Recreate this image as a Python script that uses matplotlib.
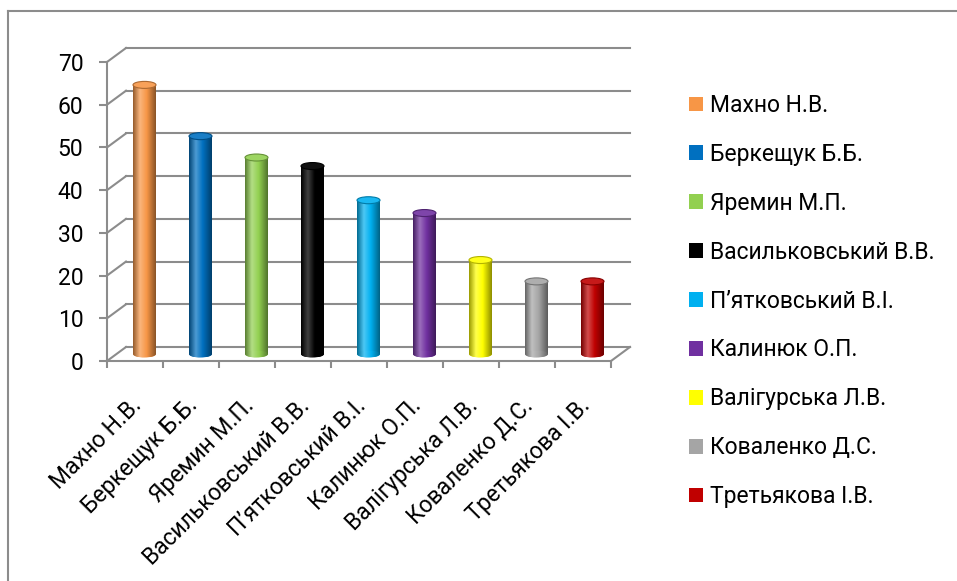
import numpy as np
import matplotlib
matplotlib.use('Agg')
import matplotlib.pyplot as plt
from matplotlib.patches import Ellipse, Patch
from matplotlib.lines import Line2D
from matplotlib.colors import to_rgb, LinearSegmentedColormap
from matplotlib.transforms import ScaledTranslation

names = ['Махно Н.В.', 'Беркещук Б.Б.', 'Яремин М.П.', 'Васильковський В.В.',
         'П’ятковський В.І.', 'Калинюк О.П.', 'Валігурська Л.В.',
         'Коваленко Д.С.', 'Третьякова І.В.']
values = [63, 51, 46, 44, 36, 33, 22, 17, 17]
colors = ['#F79646', '#0070C0', '#92D050', '#000000', '#00B0F0',
          '#7030A0', '#FFFF00', '#A5A5A5', '#C00000']
yticks = [0, 10, 20, 30, 40, 50, 60, 70]

plt.rcParams['font.family'] = ['Roboto', 'DejaVu Sans']
FS = 16.5
GRID = '#8c8c8c'

W, H = 957, 581
fig = plt.figure(figsize=(W / 100, H / 100), dpi=100)
L, R, B, T = 107, 611, 361, 62
ax = fig.add_axes([L / W, 1 - B / H, (R - L) / W, (B - T) / H])
n = len(names)
ax.set_xlim(0, n)
ax.set_ylim(0, 70)

gx = n / (R - L)
gy = 70 / (B - T)
DXp, DYp = 19, 14
dx, dy = DXp * gx, DYp * gy

for s in ['top', 'right']:
    ax.spines[s].set_visible(False)
for s in ['left', 'bottom']:
    ax.spines[s].set_color(GRID)
    ax.spines[s].set_linewidth(1.5)
ax.set_yticks(yticks)
ax.tick_params(axis='y', direction='out', length=6, width=1.5, color=GRID,
               labelsize=FS, pad=11)
ax.set_xticks(np.arange(n) + 0.5)
ax.set_xticklabels([])
ax.tick_params(axis='x', which='major', length=0)
ax.set_xticks(np.arange(n + 1), minor=True)
ax.tick_params(axis='x', which='minor', direction='out', length=5, width=1.5, color=GRID)

# 3D walls
for t in yticks:
    ax.plot([0, dx], [t, t + dy], color=GRID, lw=1.5, clip_on=False, zorder=1)
    ax.plot([dx, n + dx], [t + dy, t + dy], color=GRID, lw=1.5, clip_on=False, zorder=1)
ax.plot([n, n + dx], [0, dy], color=GRID, lw=1.5, clip_on=False, zorder=1)

# cylinders
bw = 23 * gx
eh = 7 * gy
xc = np.arange(n) + 0.5 + dx / 2
y0 = dy / 2


def mix(c, o, f):
    c = np.array(to_rgb(c)); o = np.array(to_rgb(o))
    return tuple(c * (1 - f) + o * f)


bars = ax.bar(xc, values, bottom=y0, width=bw, color=colors, zorder=3)
grad = np.linspace(0, 1, 256)[None, :]
for i, (bar, c) in enumerate(zip(bars, colors)):
    light = mix(c, 'white', 0.3) if c != '#000000' else (0.25, 0.25, 0.25)
    cm = LinearSegmentedColormap.from_list(
        'c%d' % i, [(0, mix(c, 'black', 0.4)), (0.3, light), (0.6, to_rgb(c)),
                    (1, mix(c, 'black', 0.45))])
    bot = Ellipse((xc[i], y0), bw, eh, facecolor=c, edgecolor='none', zorder=3)
    ax.add_patch(bot)
    for clip, ext in [(bar, [xc[i] - bw / 2, xc[i] + bw / 2, y0, y0 + values[i]]),
                      (bot, [xc[i] - bw / 2, xc[i] + bw / 2, y0 - eh / 2, y0 + eh / 2])]:
        im = ax.imshow(grad, extent=ext, aspect='auto', cmap=cm, zorder=3.5,
                       interpolation='bilinear')
        im.set_clip_path(clip)
    top = Ellipse((xc[i], y0 + values[i]), bw, eh,
                  facecolor=mix(c, 'white', 0.1) if c != '#000000' else '#111111',
                  edgecolor=mix(c, 'black', 0.3), lw=0.8, zorder=4)
    ax.add_patch(top)
ax.set_xlim(0, n)
ax.set_ylim(0, 70)

# category labels
off = ScaledTranslation(-5 / 100, -33 / 100, fig.dpi_scale_trans)
for i, name in enumerate(names):
    ax.text(i + 0.5, 0, name, rotation=45, ha='right', va='top',
            rotation_mode='anchor', fontsize=FS, transform=ax.transData + off)

# legend
handles = [Patch(facecolor=c, edgecolor='none') for c in colors]
fig.legend(handles, names, loc='upper left', bbox_to_anchor=(689 / W, 1 - 94 / H),
           frameon=False, fontsize=FS, handlelength=0.61, handleheight=0.61,
           handletextpad=0.3, labelspacing=1.13, borderaxespad=0, borderpad=0)

# outer frame
fig.add_artist(Line2D([8 / W, 8 / W], [0, 1 - 11 / H], color=GRID, lw=1.5))
fig.add_artist(Line2D([8 / W, 1], [1 - 11 / H, 1 - 11 / H], color=GRID, lw=1.5))

fig.savefig('out.png', dpi=100)
